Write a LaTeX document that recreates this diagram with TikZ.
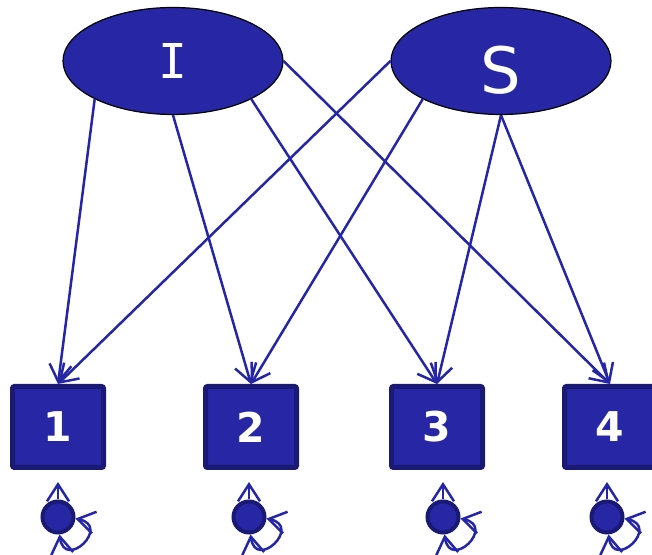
\documentclass[tikz,border=0pt]{standalone}
\usepackage{fontspec}
\setmainfont{DejaVu Sans}
\newfontfamily\slabfont{DejaVu Sans Mono}
\usetikzlibrary{shapes.geometric,arrows.meta}
\definecolor{latfill}{HTML}{2727A6}
\definecolor{boxedge}{HTML}{1A1A74}
\definecolor{pathc}{HTML}{2525A8}

\begin{document}
\begin{tikzpicture}[x=0.5pt,y=0.5pt,
  latent/.style={ellipse,draw=black,line width=0.6pt,fill=latfill,text=white,
    minimum width=110pt,minimum height=53.5pt,inner sep=0pt},
  obsbox/.style={rectangle,draw=boxedge,line width=2.5pt,fill=latfill,rounded corners=1pt,
    minimum width=45.5pt,minimum height=40.5pt,text=white,
    font=\bfseries\fontsize{20.5}{24}\selectfont},
  resid/.style={circle,draw=boxedge,line width=2pt,fill=latfill,minimum size=15.5pt,inner sep=0pt},
  load/.style={pathc,line width=1.25pt,-{Straight Barb[length=8.5pt,width=11pt]}},
  varloop/.style={pathc,line width=1.25pt,
    {Straight Barb[length=8.5pt,width=11pt]}-{Straight Barb[length=8.5pt,width=11pt]}}]
  \useasboundingbox (0,0) rectangle (652,555);
  % latent factors
  \node[latent,font=\slabfont\fontsize{24}{28}\selectfont] (I) at (173,494) {I};
  \node[latent,font=\fontsize{32}{36}\selectfont,text height=33pt,text depth=0pt] (S) at (501,494) {S};
  % indicators
  \node[obsbox] (b1) at (58,128) {1};
  \node[obsbox] (b2) at (251,128) {2};
  \node[obsbox] (b3) at (437,128) {3};
  \node[obsbox] (b4) at (610,128) {4};
  % residuals
  \node[resid] (e1) at (58,38) {};
  \node[resid] (e2) at (249,38) {};
  \node[resid] (e3) at (443,38) {};
  \node[resid] (e4) at (607,38) {};
  % loadings of I
  \draw[load] (I.206) -- (b1.north);
  \draw[load] (I.south) -- (b2.north);
  \draw[load] (I.334) -- (b3.north);
  \draw[load] (I.east) -- (b4.north);
  % loadings of S
  \draw[load] (S.west) -- (b1.north);
  \draw[load] (S.206) -- (b2.north);
  \draw[load] (S.south) -- (b3.north);
  \draw[load] (S.south) -- (b4.north);
  % residual paths and variances
  \draw[load,shorten >=6pt] (e1) -- (e1 |- b1.south);
  \draw[load,shorten >=6pt] (e2) -- (e2 |- b2.south);
  \draw[load,shorten >=6pt] (e3) -- (e3 |- b3.south);
  \draw[load,shorten >=6pt] (e4) -- (e4 |- b4.south);
  \draw[varloop] (e1.-5) to[out=-12,in=-82,looseness=4.2] (e1.-85);
  \draw[varloop] (e2.-5) to[out=-12,in=-82,looseness=4.2] (e2.-85);
  \draw[varloop] (e3.-5) to[out=-12,in=-82,looseness=4.2] (e3.-85);
  \draw[varloop] (e4.-5) to[out=-12,in=-82,looseness=4.2] (e4.-85);
\end{tikzpicture}
\end{document}
